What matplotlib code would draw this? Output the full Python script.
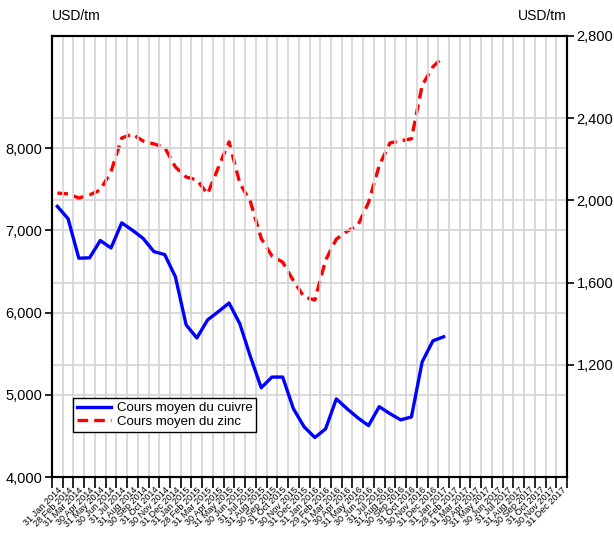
import numpy as np
import pandas as pd
import matplotlib
matplotlib.use('Agg')
import matplotlib.pyplot as plt

#%% Data (monthly averages)
months = [d.strftime('%d %b %Y') for d in pd.date_range('2014-01-31', periods=48, freq='ME')]

copper = [7290, 7140, 6660, 6665, 6875, 6785, 7090, 7000, 6900, 6740, 6705, 6435,
          5850, 5690, 5910, 6010, 6115, 5865, 5460, 5085, 5215, 5215, 4830, 4610,
          4480, 4585, 4950, 4830, 4720, 4625, 4855, 4770, 4695, 4730, 5400, 5655,
          5705]
zinc = [2036, 2032, 2012, 2027, 2051, 2140, 2304, 2323, 2289, 2275, 2258, 2163,
        2114, 2100, 2032, 2160, 2285, 2085, 1993, 1815, 1730, 1700, 1610, 1530,
        1516, 1710, 1812, 1850, 1878, 1990, 2170, 2280, 2290, 2300, 2560, 2650,
        2700]

left_ticks = [4000, 5000, 6000, 7000, 8000]
right_ticks = [1200, 1600, 2000, 2400, 2800]

plt.rcParams['font.family'] = ['Liberation Sans', 'DejaVu Sans']

#%% Plot
fig = plt.figure(figsize=(6.14, 5.39), dpi=100)
ax = fig.add_axes([52/614, 62/539, 515/614, 441/539])
ax2 = ax.twinx()

x = np.arange(len(copper))
grid_c = '#d3d3d3'

# month boundaries carry the ticks and grid, labels sit in the middle
ax.set_xlim(-0.5, 47.5)
ax.set_xticks(np.arange(-0.5, 48, 1))
ax.set_xticklabels([])
ax.set_xticks(np.arange(48), minor=True)
ax.set_xticklabels(months, minor=True, rotation=45, ha='right', va='top',
                   rotation_mode='anchor', fontsize=6.6)
ax.tick_params(axis='x', which='major', direction='out', length=8, width=1.2)
ax.tick_params(axis='x', which='minor', length=0, pad=6)
ax.xaxis.grid(True, which='major', color=grid_c, lw=1.2)

ax.set_ylim(4000, 9362)
ax.set_yticks(left_ticks)
ax.set_yticklabels([f'{v:,}' for v in left_ticks], fontsize=10.5)
ax.tick_params(axis='y', direction='out', length=5, width=1.2, pad=2)
ax.yaxis.grid(True, color=grid_c, lw=1.2)

ax2.set_ylim(655, 2800)
ax2.set_yticks(right_ticks)
ax2.set_yticklabels([f'{v:,}' for v in right_ticks], fontsize=10.5)
ax2.tick_params(axis='y', direction='out', length=5, width=1.2, pad=2)
ax2.yaxis.grid(True, color=grid_c, lw=1.2)

ax.set_axisbelow(True)
ax2.set_axisbelow(True)

for a in (ax, ax2):
    for s in a.spines.values():
        s.set_linewidth(1.5)
        s.set_color('black')

# series
l1, = ax.plot(x, copper, color='#0000ff', lw=2.4, label='Cours moyen du cuivre', zorder=5)
l2, = ax2.plot(x, zinc, color='#ff0000', lw=2.4, ls=(0, (3.2, 1.8)),
               label='Cours moyen du zinc', zorder=5)

# twin axes is drawn on top, so keep its grid from hiding the blue line
ax.set_zorder(ax2.get_zorder() + 1)
ax.patch.set_visible(False)

leg = ax.legend(handles=[l1, l2], loc='lower left', bbox_to_anchor=(21/515, 45/441),
                fontsize=9.5, frameon=True, fancybox=False, edgecolor='black',
                framealpha=1, borderpad=0.3, labelspacing=0.1, handlelength=2.6,
                handletextpad=0.4, borderaxespad=0)
leg.get_frame().set_linewidth(1.0)

ax.text(0, 1.03, 'USD/tm', transform=ax.transAxes, ha='left', va='bottom', fontsize=10)
ax.text(1, 1.03, 'USD/tm', transform=ax.transAxes, ha='right', va='bottom', fontsize=10)

fig.savefig('out.png', dpi=100)
